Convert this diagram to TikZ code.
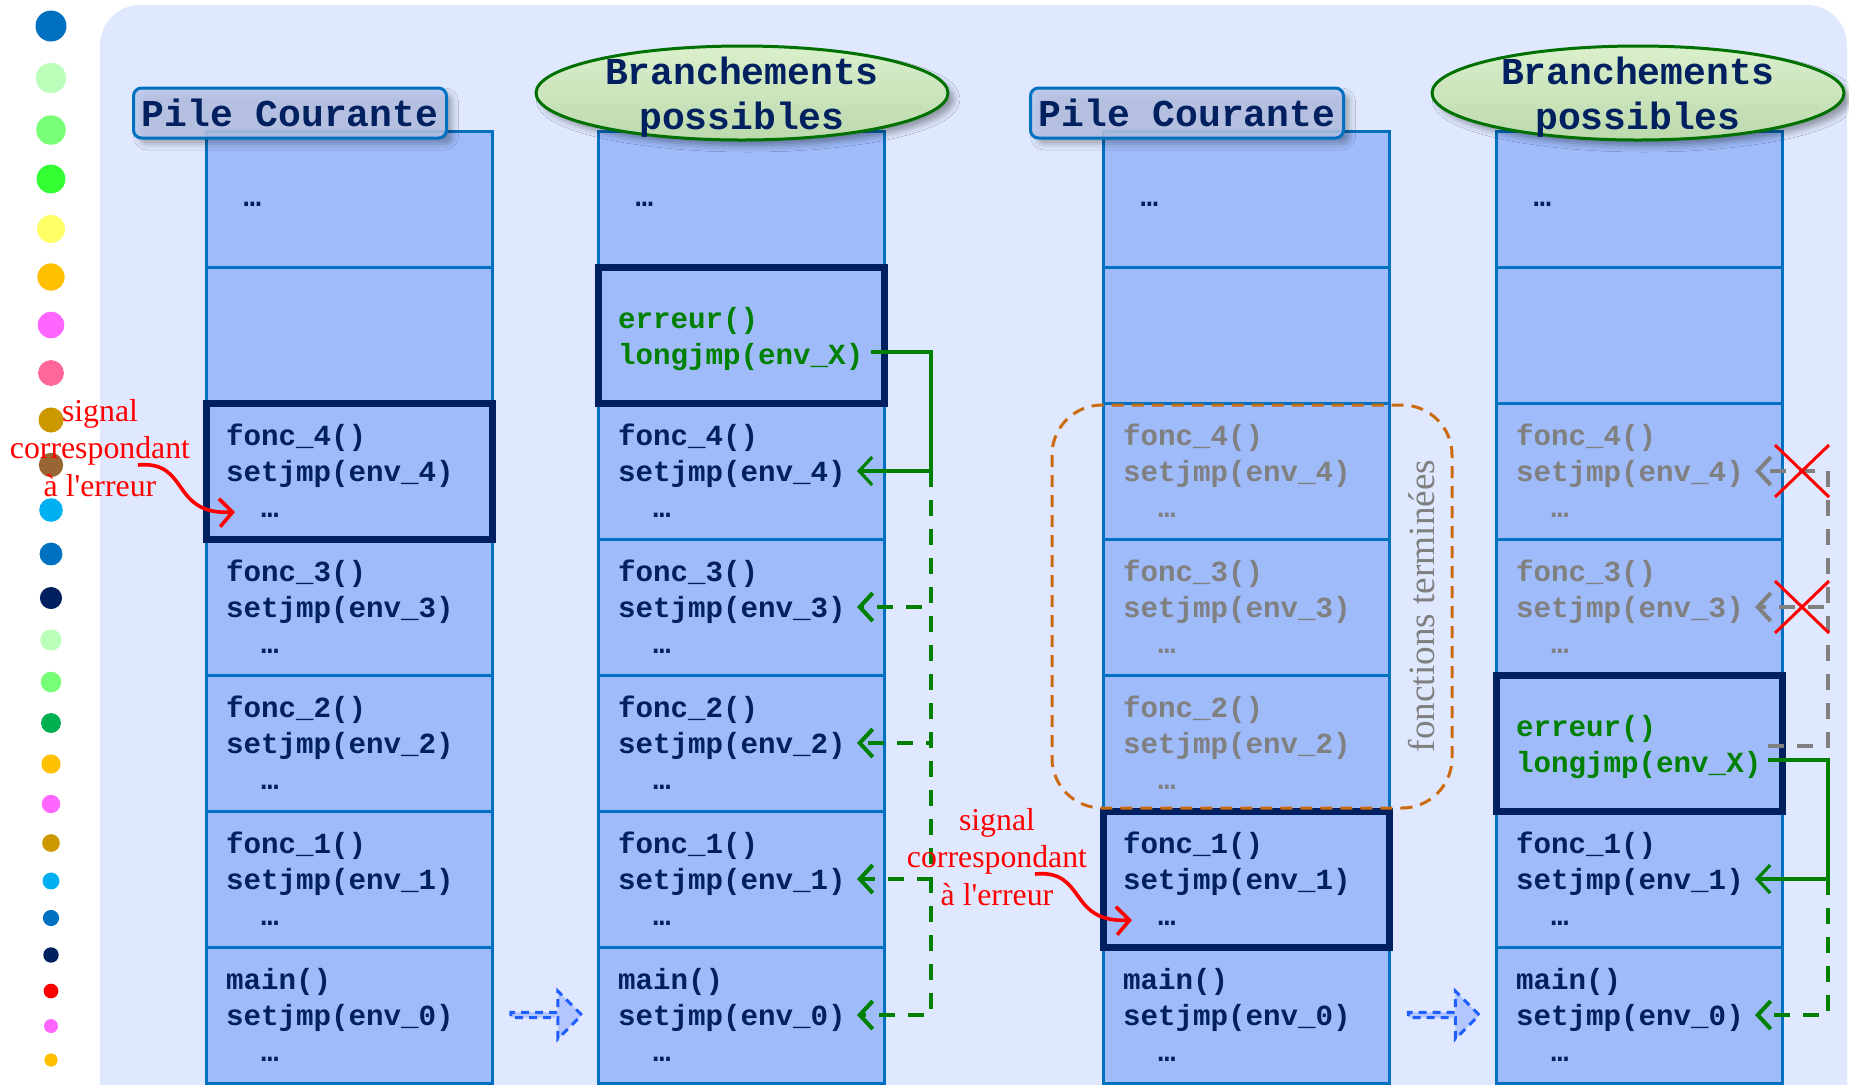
\documentclass[tikz,border=0pt]{standalone}
\usepackage{fontspec}
\setmainfont{Liberation Serif}
\setmonofont{Liberation Mono}
\usetikzlibrary{positioning,calc,arrows.meta,shapes.geometric,shapes.arrows,shadows.blur}

\definecolor{navy}{HTML}{002060}
\definecolor{stackblue}{HTML}{0070C0}
\definecolor{cellfill}{HTML}{A0BBFA}
\definecolor{bgblue}{HTML}{DFE8FE}
\definecolor{codegreen}{HTML}{008000}
\definecolor{deadgray}{HTML}{808080}
\definecolor{termorange}{HTML}{CC6A10}
\definecolor{headfill}{HTML}{BAC6EA}
\definecolor{ovaltop}{HTML}{DAF0CC}
\definecolor{ovalbot}{HTML}{BCD9AC}
\definecolor{ovalline}{HTML}{007000}
\definecolor{nextline}{HTML}{1F5FFF}
\definecolor{nextfill}{HTML}{B4C6FF}

\newcommand\foncframe[1]{fonc\_#1()\\setjmp(env\_#1)\\\phantom{xx}…}
\newcommand\mainframe{main()\\setjmp(env\_0)\\\phantom{xx}…}
\newcommand\errframe{\rule{0pt}{15pt}erreur()\\longjmp(env\_X)}

\begin{document}
\begin{tikzpicture}[x=0.5pt,y=-0.5pt,
  >={Straight Barb[length=6.5pt,width=14pt]},
  cell/.style={draw=stackblue,line width=1.5pt,fill=cellfill,outer sep=0pt,
    minimum width=143pt,minimum height=68pt,text width=123pt,
    inner xsep=10pt,inner ysep=0pt,align=left,text=navy,
    font=\ttfamily\bfseries\fontsize{14.6}{18}\selectfont},
  dead/.style={cell,text=deadgray},
  err/.style={cell,text=codegreen},
  framed/.style={draw=navy,line width=3.5pt},
  pilehead/.style={draw=stackblue,line width=1.5pt,rounded corners=4pt,
    fill=headfill,fill opacity=0.85,text opacity=1,text=navy,
    minimum width=156.5pt,minimum height=25pt,inner sep=0pt,
    font=\ttfamily\bfseries\fontsize{19}{22}\selectfont,
    blur shadow={shadow xshift=3pt,shadow yshift=-3pt,shadow blur radius=3pt,shadow opacity=35}},
  branchoval/.style={ellipse,draw=ovalline,line width=1.5pt,
    top color=ovaltop,bottom color=ovalbot,
    minimum width=206pt,minimum height=47pt,inner sep=0pt,
    blur shadow={shadow xshift=3pt,shadow yshift=-3pt,shadow blur radius=3pt,shadow opacity=35}},
  headtext/.style={text=navy,align=center,inner sep=0pt,
    font=\ttfamily\bfseries\fontsize{19}{22.5}\selectfont},
  signal/.style={text=red,align=center,inner sep=0pt,font=\fontsize{15.9}{18.8}\selectfont},
  termlabel/.style={text=deadgray,rotate=90,inner sep=0pt,font=\fontsize{18.6}{20}\selectfont},
  termgroup/.style={draw=termorange,line width=1.5pt,dash pattern=on 6pt off 4pt,rounded corners=25pt},
  jumpline/.style={codegreen,line width=1.6pt,->},
  jumpdash/.style={codegreen,line width=2pt,dash pattern=on 8pt off 6.5pt,->},
  deaddash/.style={deadgray,line width=2pt,dash pattern=on 8pt off 6.5pt,->},
  cross/.style={red,line width=1.5pt},
  redarrow/.style={red,line width=1.8pt,->},
  nextarrow/.style={single arrow,draw=nextline,fill=nextfill,line width=1.5pt,
    dash pattern=on 4pt off 3pt,minimum height=35.5pt,minimum width=24pt,
    single arrow head extend=6pt,inner sep=0pt}
]
  \useasboundingbox (0,0) rectangle (1849,1084);
  \clip (0,0) rectangle (1849,1084);

  % Background panel
  \fill[bgblue,rounded corners=20pt] (100,5) rectangle (1847,1250);

  % Colour swatches down the left side
  \foreach \y/\c [count=\i] in {26/0070C0,78/BBFFBB,130/77FF77,179/33FF33,229/FFFF66,
      277/FFC000,325/FF66FF,373/FF6699,420/CC9900,465/996633,510/00B0F0,554/0070C0,
      598/002060,640/BBFFBB,682/77FF77,723/00B050,764/FFC000,804/FF66FF,843/CC9900,
      881/00B0F0,918/0070C0,955/002060,991/FF0000,1026/FF66FF,1060/FFC000} {
    \definecolor{dot}{HTML}{\c}
    \fill[dot] (51,\y) circle[radius={15.5-0.37*(\i-1)}];
  }

  % Stack 1: current stack
  \node[cell] (a1) at (349,199) {\phantom{x}…\strut};
  \node[cell,below=0pt of a1] (a2) {};
  \node[cell,below=0pt of a2] (a3) {\foncframe{4}};
  \node[cell,below=0pt of a3] (a4) {\foncframe{3}};
  \node[cell,below=0pt of a4] (a5) {\foncframe{2}};
  \node[cell,below=0pt of a5] (a6) {\foncframe{1}};
  \node[cell,below=0pt of a6] (a7) {\mainframe};

  % Stack 2: possible jumps
  \node[cell] (b1) at (741,199) {\phantom{x}…\strut};
  \node[err,below=0pt of b1] (b2) {\errframe};
  \node[cell,below=0pt of b2] (b3) {\foncframe{4}};
  \node[cell,below=0pt of b3] (b4) {\foncframe{3}};
  \node[cell,below=0pt of b4] (b5) {\foncframe{2}};
  \node[cell,below=0pt of b5] (b6) {\foncframe{1}};
  \node[cell,below=0pt of b6] (b7) {\mainframe};

  % Stack 3: current stack, after unwinding
  \node[cell] (c1) at (1246,199) {\phantom{x}…\strut};
  \node[cell,below=0pt of c1] (c2) {};
  \node[dead,below=0pt of c2] (c3) {\foncframe{4}};
  \node[dead,below=0pt of c3] (c4) {\foncframe{3}};
  \node[dead,below=0pt of c4] (c5) {\foncframe{2}};
  \node[cell,below=0pt of c5] (c6) {\foncframe{1}};
  \node[cell,below=0pt of c6] (c7) {\mainframe};

  % Stack 4: possible jumps, after unwinding
  \node[cell] (d1) at (1639,199) {\phantom{x}…\strut};
  \node[cell,below=0pt of d1] (d2) {};
  \node[dead,below=0pt of d2] (d3) {\foncframe{4}};
  \node[dead,below=0pt of d3] (d4) {\foncframe{3}};
  \node[err,below=0pt of d4] (d5) {\errframe};
  \node[cell,below=0pt of d5] (d6) {\foncframe{1}};
  \node[cell,below=0pt of d6] (d7) {\mainframe};

  % Active frames
  \foreach \n in {a3,b2,c6,d5}
    \draw[framed] (\n.south west) rectangle (\n.north east);

  % Finished functions
  \draw[termgroup] ($(c3.north west)+(-51,2)$) rectangle ($(c5.south east)+(63,-3)$);
  \node[termlabel] (terml) at (1422,606) {fonctions terminées};

  % Headers
  \node[pilehead] (heada) at (290,113) {Pile Courante};
  \node[branchoval] (ovalb) at (742,93) {};
  \node[headtext] (headb) at ($(ovalb)+(0,4)$) {Branchements\\possibles};
  \node[pilehead] (headc) at (1187,113) {Pile Courante};
  \node[branchoval] (ovald) at (1638,93) {};
  \node[headtext] (headd) at ($(ovald)+(0,4)$) {Branchements\\possibles};

  % Jump targets and buses
  \foreach \col in {b,d}
    \foreach \r/\e in {3/4,4/3,5/2,6/1,7/0}
      \coordinate (\col env\e) at ($(\col\r.east)+(-27,0)$);
  \coordinate (busb) at ($(b2.east)+(47,0)$);
  \coordinate (busd) at ($(d5.east)+(46,0)$);
  \coordinate (jmpb) at ($(b2.east)+(-13,17)$);
  \coordinate (jmpd) at ($(d5.east)+(-14,17)$);
  \coordinate (deadd) at ($(d5.east)+(-14,3)$);

  % longjmp from the top of the stack
  \draw[jumpline] (jmpb) -- (jmpb -| busb) |- (benv4);
  \foreach \e in {3,2,1,0}
    \draw[jumpdash] (benv4 -| busb) |- (benv\e);

  % longjmp after unwinding
  \foreach \e in {4,3}
    \draw[deaddash] (deadd) -- (deadd -| busd) |- (denv\e);
  \draw[jumpline] (jmpd) -- (jmpd -| busd) |- (denv1);
  \draw[jumpdash] (denv1 -| busd) |- (denv0);
  \foreach \e in {4,3}
    \draw[cross] ($(denv\e)+(20,-26)$) -- +(54,52) ($(denv\e)+(20,26)$) -- +(54,-52);

  % Next step arrows
  \node[nextarrow] (nexta) at ($(a7.east)!0.5!(b7.west)$) {};
  \node[nextarrow] (nextc) at ($(c7.east)!0.5!(d7.west)$) {};

  % Signals
  \node[signal] (siga) at (100,448) {signal\\correspondant\\à l\textquotesingle erreur};
  \draw[redarrow] ($(siga.center)+(38,17)$) .. controls +(52,-5) and +(-65,3) .. ($(a3.west)+(29,41)$);
  \node[signal] (sigc) at (997,857) {signal\\correspondant\\à l\textquotesingle erreur};
  \draw[redarrow] ($(sigc.center)+(38,17)$) .. controls +(52,-5) and +(-65,3) .. ($(c6.west)+(29,41)$);
\end{tikzpicture}
\end{document}
